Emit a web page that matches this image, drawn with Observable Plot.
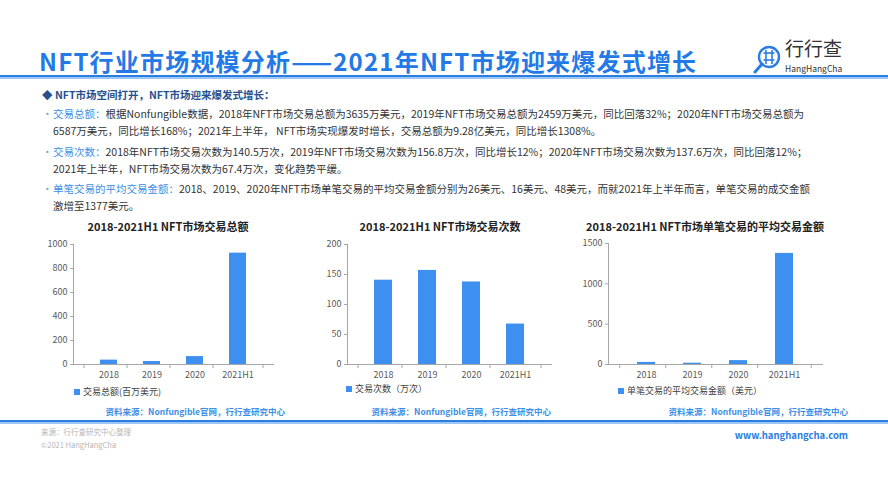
<!DOCTYPE html>
<html>
<head>
<meta charset="utf-8">
<script src="https://cdn.jsdelivr.net/npm/d3@7"></script>
<script src="https://cdn.jsdelivr.net/npm/@observablehq/plot@0.6"></script>
<style>
  html, body { margin: 0; padding: 0; background: #fff; }
  #page { position: relative; width: 888px; height: 500px; overflow: hidden; background: #fff;
    font-family: "Noto Sans CJK SC", "Noto Sans", sans-serif; color: #333; }
  .abs { position: absolute; white-space: nowrap; }
  #title { left: 39px; top: 46px; font-size: 24px; font-weight: 700; color: #2379e6; letter-spacing: 1.2px; line-height: 30px; }
  .hline { position: absolute; left: 0; width: 888px; height: 4px;
    background: linear-gradient(#2a7de1 0, #2a7de1 50%, #9cc6f3 50%, #9cc6f3 100%); }
  #heading { left: 42px; top: 87px; font-size: 10.5px; font-weight: 700; color: #27508d; line-height: 16px; }
  .para { position: absolute; left: 42px; font-size: 10.5px; line-height: 17px; color: #333; white-space: nowrap; }
  .para .dot { color: #7fa9d6; display: inline-block; width: 11px; }
  .para .lbl { color: #3b8fe6; }
  .para .indent { display: inline-block; width: 11px; }
  .ctitle { position: absolute; font-size: 11px; font-weight: 700; color: #222; white-space: nowrap; transform: translateX(-50%); line-height: 14px; }
  .legend { position: absolute; font-size: 9px; color: #404040; white-space: nowrap; line-height: 12px; }
  .legend .sw { display: inline-block; width: 6px; height: 6px; background: #3d8ff0; margin-right: 3px; vertical-align: 0px; }
  .source { position: absolute; font-size: 8.5px; font-weight: 700; color: #3b8fe6; white-space: nowrap; transform: translateX(-100%); line-height: 12px; }
  .chart { position: absolute; }
  .chart svg { overflow: visible; }
  #foot1, #foot2 { left: 41px; font-size: 7.5px; color: #b5b5b5; line-height: 10px; }
  #site { left: 848px; top: 428px; transform: translateX(-100%); font-size: 9.5px; font-weight: 700; color: #2a7de1; }
  #logoText { left: 785px; top: 38px; font-size: 19px; color: #333; line-height: 20px; }
  #logoSub { left: 785px; top: 63px; font-size: 8.5px; color: #333; line-height: 10px; }
</style>
</head>
<body>
<div id="page"></div>
<script>
// ---------------- data ----------------
const years = ["2018", "2019", "2020", "2021H1"];
const totalAmount = [36.35, 24.59, 65.87, 928];      // 百万美元
const txCount = [140.5, 156.8, 137.6, 67.4];          // 万次
const avgAmount = [26, 16, 48, 1377];                 // 美元

const ticksTotal = [0, 200, 400, 600, 800, 1000];
const ticksCount = [0, 50, 100, 150, 200];
const ticksAvg = [0, 500, 1000, 1500];

const chartTitles = ["2018-2021H1 NFT市场交易总额", "2018-2021H1 NFT市场交易次数", "2018-2021H1 NFT市场单笔交易的平均交易金额"];
const legendLabels = ["交易总额(百万美元)", "交易次数（万次）", "单笔交易的平均交易金额（美元）"];
const sourceText = "资料来源：Nonfungible官网，行行查研究中心";

const pageTitle = "NFT行业市场规模分析——2021年NFT市场迎来爆发式增长";
const headingText = "◆ NFT市场空间打开，NFT市场迎来爆发式增长：";
const paraLabels = ["交易总额：", "交易次数：", "单笔交易的平均交易金额："];
const paraLines = [
  ["根据Nonfungible数据，2018年NFT市场交易总额为3635万美元，2019年NFT市场交易总额为2459万美元，同比回落32%；2020年NFT市场交易总额为",
   "6587万美元，同比增长168%；2021年上半年， NFT市场实现爆发时增长，交易总额为9.28亿美元，同比增长1308%。"],
  ["2018年NFT市场交易次数为140.5万次，2019年NFT市场交易次数为156.8万次，同比增长12%；2020年NFT市场交易次数为137.6万次，同比回落12%；",
   "2021年上半年，NFT市场交易次数为67.4万次，变化趋势平缓。"],
  ["2018、2019、2020年NFT市场单笔交易的平均交易金额分别为26美元、16美元、48美元，而就2021年上半年而言，单笔交易的成交金额",
   "激增至1377美元。"]
];

// ---------------- layout ----------------
const page = document.getElementById("page");
function add(html, cls, id, style) {
  const d = document.createElement("div");
  if (cls) d.className = cls;
  if (id) d.id = id;
  d.innerHTML = html;
  if (style) Object.assign(d.style, style);
  page.appendChild(d);
  return d;
}

add(pageTitle, "abs", "title");
add("", "hline", null, {top: "75px"});
add("", "hline", null, {top: "420px"});

// logo
add(`<svg width="30" height="32" viewBox="0 0 30 32">
  <circle cx="17" cy="13" r="10" fill="none" stroke="#2a7de1" stroke-width="2.4"/>
  <line x1="10" y1="20" x2="3" y2="28" stroke="#2a7de1" stroke-width="3" stroke-linecap="round"/>
  <line x1="11.5" y1="9" x2="22.5" y2="9" stroke="#2a7de1" stroke-width="1.6"/>
  <line x1="11.5" y1="16" x2="22.5" y2="16" stroke="#2a7de1" stroke-width="1.6"/>
  <line x1="14" y1="6" x2="14" y2="20" stroke="#2a7de1" stroke-width="1.6"/>
  <line x1="20" y1="6" x2="20" y2="20" stroke="#2a7de1" stroke-width="1.6"/>
</svg>`, "abs", null, {left: "752px", top: "44px"});
add("行行查", "abs", "logoText");
add("HangHangCha", "abs", "logoSub");

add(headingText, "abs", "heading");

const paraTops = [105, 143, 180];
paraLines.forEach((lines, i) => {
  add(`<span class="dot">•</span><span class="lbl">${paraLabels[i]}</span>${lines[0]}<br><span class="indent"></span>${lines[1]}`,
      "para", null, {top: paraTops[i] + "px"});
});

// ---------------- charts ----------------
const barColor = "#3d8ff0";
const axisColor = "#a6a6a6";

function barChart({values, ticks, left, top, width, height, mL, mR, mT, mB}) {
  const data = years.map((y, i) => ({year: y, value: values[i]}));
  const plotW = width - mL - mR;
  const step = plotW / years.length;
  const chart = Plot.plot({
    width, height,
    marginLeft: mL, marginRight: mR, marginTop: mT, marginBottom: mB,
    style: {fontFamily: "'Noto Sans CJK SC', 'Noto Sans', sans-serif", fontSize: "9px", color: "#595959", background: "transparent"},
    x: {domain: years, padding: 0.6, label: null},
    y: {domain: [ticks[0], ticks[ticks.length - 1]], label: null},
    marks: [
      Plot.barY(data, {x: "year", y: "value", fill: barColor}),
      Plot.frame({anchor: "left", stroke: axisColor}),
      Plot.frame({anchor: "bottom", stroke: axisColor}),
      Plot.axisY({ticks, tickSize: 3, tickPadding: 3, tickFormat: d => String(d), stroke: axisColor, fill: "#595959", label: null}),
      Plot.axisX({tickSize: 0, tickPadding: 7, fill: "#595959", label: null}),
      Plot.axisX({tickSize: 4, tickFormat: () => "", stroke: axisColor, dx: -step / 2, label: null}),
      Plot.axisX({ticks: [years[years.length - 1]], tickSize: 4, tickFormat: () => "", stroke: axisColor, dx: step / 2, label: null})
    ]
  });
  const wrap = add("", "chart", null, {left: left + "px", top: top + "px"});
  wrap.appendChild(chart);
}

barChart({values: totalAmount, ticks: ticksTotal, left: 30, top: 234, width: 250, height: 150, mL: 43, mR: 7, mT: 10, mB: 20});
barChart({values: txCount, ticks: ticksCount, left: 305, top: 234, width: 250, height: 150, mL: 42, mR: 4, mT: 10, mB: 20});
barChart({values: avgAmount, ticks: ticksAvg, left: 565, top: 233, width: 262, height: 152, mL: 43, mR: 5, mT: 10, mB: 21});

// chart titles
const titleCenters = [168, 440, 705];
chartTitles.forEach((t, i) => add(t, "ctitle", null, {left: titleCenters[i] + "px", top: "219px"}));

// legends
const legendPos = [[74, 386], [346, 383], [618, 385]];
legendLabels.forEach((t, i) => add(`<span class="sw"></span>${t}`, "legend", null, {left: legendPos[i][0] + "px", top: legendPos[i][1] + "px"}));

// sources
const sourceRight = [285, 551, 848];
sourceRight.forEach(r => add(sourceText, "source", null, {left: r + "px", top: "405px"}));

// footer
add("来源：行行查研究中心整理", "abs", "foot1", {top: "427px"});
add("©2021 HangHangCha", "abs", "foot2", {top: "440px"});
add("www.hanghangcha.com", "abs", "site");
</script>
</body>
</html>
